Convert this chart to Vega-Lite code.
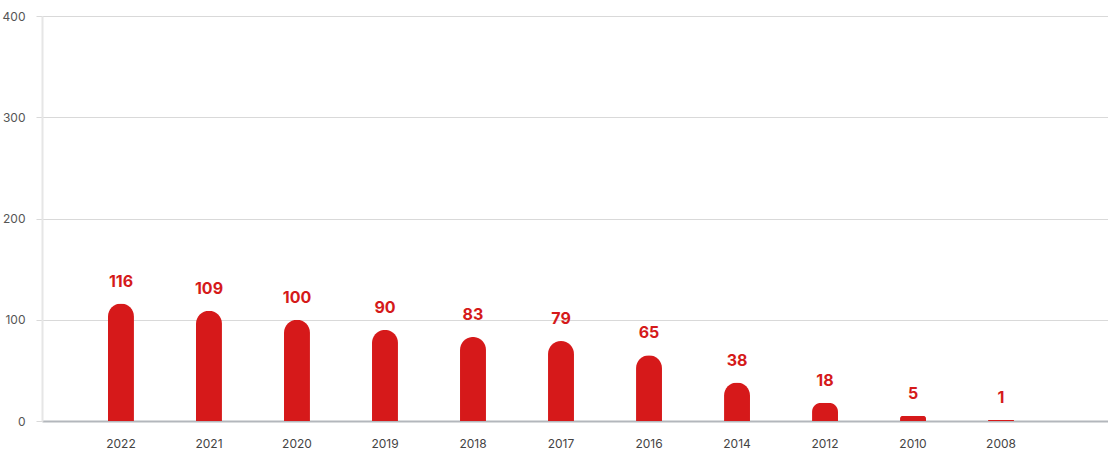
{
  "$schema": "https://vega.github.io/schema/vega-lite/v6.json",
  "autosize": "none",
  "width": 1066,
  "height": 405,
  "padding": {"left": 42, "top": 16, "right": 0, "bottom": 30},
  "background": "white",
  "config": {"view": {"stroke": null}, "font": "Inter"},
  "data": {"values": [
    {"year": "2022", "count": 116},
    {"year": "2021", "count": 109},
    {"year": "2020", "count": 100},
    {"year": "2019", "count": 90},
    {"year": "2018", "count": 83},
    {"year": "2017", "count": 79},
    {"year": "2016", "count": 65},
    {"year": "2014", "count": 38},
    {"year": "2012", "count": 18},
    {"year": "2010", "count": 5},
    {"year": "2008", "count": 1}
  ]},
  "encoding": {
    "x": {"field": "year", "type": "nominal", "sort": null,
      "scale": {"paddingInner": 0.705, "paddingOuter": 0.909, "align": 0.4125},
      "axis": {"title": null, "labelAngle": 0, "ticks": false, "labelPadding": 17,
        "labelFontSize": 12, "labelColor": "#444444", "domainColor": "#b3b7bc", "domainWidth": 2, "grid": false}},
    "y": {"field": "count", "type": "quantitative",
      "scale": {"domain": [0, 400], "nice": false},
      "axis": {"title": null, "values": [0, 100, 200, 300, 400], "tickSize": 6, "tickColor": "#d9d9d9",
        "labelPadding": 11, "labelFontSize": 12, "labelColor": "#555555",
        "gridColor": "#d9d9d9", "domainColor": "#e6e6e6", "domainWidth": 2}}
  },
  "layer": [
    {"mark": {"type": "bar", "color": "#d6191a", "cornerRadiusTopLeft": 13, "cornerRadiusTopRight": 13}},
    {"mark": {"type": "text", "color": "#d51a1a", "fontSize": 16, "fontWeight": "bold", "baseline": "bottom", "dy": -14},
      "encoding": {"text": {"field": "count", "type": "quantitative"}}}
  ]
}
